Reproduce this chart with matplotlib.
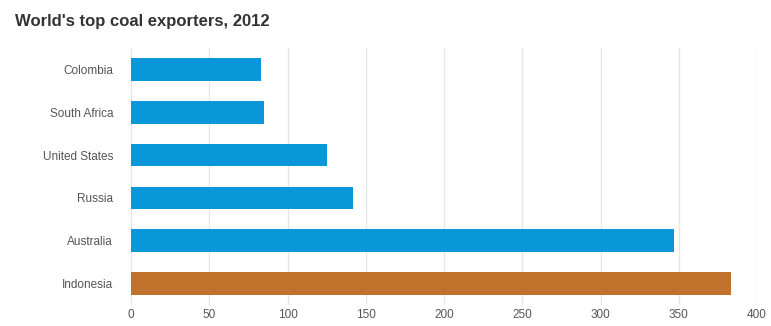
import matplotlib
matplotlib.use("Agg")
import matplotlib.pyplot as plt

# data (million tonnes, 2012)
countries = ["Colombia", "South Africa", "United States", "Russia", "Australia", "Indonesia"]
exports = [83, 85, 125, 142, 347, 383]
bar_colors = ["#0a97d9"] * 5 + ["#c0712b"]
x_ticks = [0, 50, 100, 150, 200, 250, 300, 350, 400]

plt.rcParams["font.family"] = ["Liberation Sans", "DejaVu Sans"]

fig = plt.figure(figsize=(7.71, 3.26), dpi=100)
ax = fig.add_axes([0.170, 0.064, 0.812, 0.789])

ax.barh(range(len(countries)), exports, height=0.53, color=bar_colors, zorder=3)

ax.set_xlim(0, 400)
ax.set_ylim(5.5, -0.5)
ax.set_xticks(x_ticks)
ax.set_yticks(range(len(countries)))
ax.set_yticklabels(countries)
ax.tick_params(axis="both", length=0, labelsize=8.5, labelcolor="#555555")
ax.tick_params(axis="y", pad=13)
ax.tick_params(axis="x", pad=3)

ax.grid(axis="x", color="#e6e6e6", linewidth=0.9, zorder=0)
for s in ax.spines.values():
    s.set_visible(False)

fig.text(0.02, 0.935, "World's top coal exporters, 2012", fontsize=12,
         fontweight="bold", color="#333333", va="center")

fig.savefig("out.png", dpi=100)
